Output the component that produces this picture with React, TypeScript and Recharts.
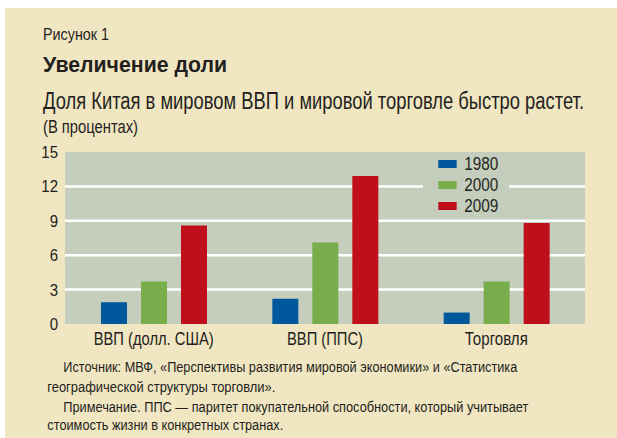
import { BarChart, Bar, XAxis, YAxis, CartesianGrid, Legend } from 'recharts';

const categories = ['ВВП (долл. США)', 'ВВП (ППС)', 'Торговля'];
const share1980 = [1.9, 2.2, 1.0];
const share2000 = [3.7, 7.1, 3.7];
const share2009 = [8.6, 12.9, 8.8];
const yTicks = [0, 3, 6, 9, 12, 15];
const seriesNames = ['1980', '2000', '2009'];
const seriesColors = ['#00589c', '#77ad4b', '#be0f1a'];

// widths of the condensed labels in the reference
const categoryWidths = [120, 76, 63];

const data = categories.map((name, i) => ({
  name,
  y1980: share1980[i],
  y2000: share2000[i],
  y2009: share2009[i],
}));

const FONT = "'Liberation Sans', Arial, sans-serif";
const CREAM = '#f1e6c2';
const PLOT = '#c5cebc';
const INK = '#231f20';

function CategoryTick({ x, y, payload, index }: any) {
  return (
    <text x={x} y={y} dy={13} textAnchor="middle" fontSize={17.5} fill={INK} fontFamily={FONT}
      textLength={categoryWidths[index]} lengthAdjust="spacingAndGlyphs">
      {payload.value}
    </text>
  );
}

function ValueTick({ x, y, payload }: any) {
  const label = String(payload.value);
  return (
    <text x={x + 1} y={y} dy={6} textAnchor="end" fontSize={17} fill={INK} fontFamily={FONT}
      textLength={label.length * 8.35} lengthAdjust="spacingAndGlyphs">
      {label}
    </text>
  );
}

function LegendBox() {
  return (
    <svg width={86} height={64} style={{ display: 'block' }}>
      <rect width={86} height={64} fill={PLOT} />
      {seriesNames.map((s, i) => (
        <g key={s}>
          <rect x={15.3} y={8 + i * 21} width={18.4} height={8} fill={seriesColors[i]} />
          <text x={41.3} y={18 + i * 21} fontSize={17.5} fill={INK} fontFamily={FONT}
            textLength={34} lengthAdjust="spacingAndGlyphs">{s}</text>
        </g>
      ))}
    </svg>
  );
}

function Label({ x, y, size, width, bold, children }: any) {
  return (
    <text x={x} y={y} fontSize={size} fontWeight={bold ? 'bold' : 'normal'} fill={INK} fontFamily={FONT}
      textLength={width} lengthAdjust="spacingAndGlyphs">
      {children}
    </text>
  );
}

export default function App() {
  return (
    <div style={{ position: 'absolute', left: 0, top: 0, width: 617, height: 438, background: '#fff' }}>
      <div style={{ position: 'absolute', left: 5, top: 8, width: 612, height: 430, background: CREAM }} />
      <div style={{ position: 'absolute', left: 0, top: 0 }}>
        <BarChart
          width={617}
          height={438}
          data={data}
          barSize={26}
          barGap={14}
          margin={{ top: 152, right: 32, bottom: 84, left: 0 }}
        >
          <CartesianGrid
            fill={PLOT}
            vertical={false}
            stroke="#ffffff"
            strokeWidth={2.5}
            horizontalCoordinatesGenerator={({ offset }: any) =>
              [3, 6, 9, 12].map((v) => offset.top + offset.height * (1 - v / 15))
            }
          />
          <XAxis
            dataKey="name"
            height={30}
            padding={{ left: 3, right: 3 }}
            axisLine={false}
            tickLine={false}
            tick={<CategoryTick />}
          />
          <XAxis
            xAxisId="edges"
            type="number"
            domain={[0, 3]}
            ticks={[0, 1, 2, 3]}
            height={0}
            padding={{ left: 3, right: 3 }}
            axisLine={false}
            tick={false}
            tickSize={3}
            mirror
            stroke="#333"
          />
          <YAxis
            width={65}
            domain={[0, 15]}
            ticks={yTicks}
            axisLine={false}
            tickLine={false}
            tick={<ValueTick />}
          />
          <Legend
            verticalAlign="middle"
            align="center"
            layout="horizontal"
            content={() => <LegendBox />}
            wrapperStyle={{ left: 423, top: 152, width: 86 }}
          />
          <Bar dataKey="y1980" name="1980" fill={seriesColors[0]} isAnimationActive={false} />
          <Bar dataKey="y2000" name="2000" fill={seriesColors[1]} isAnimationActive={false} />
          <Bar dataKey="y2009" name="2009" fill={seriesColors[2]} isAnimationActive={false} />
        </BarChart>
      </div>
      <svg width={617} height={438} style={{ position: 'absolute', left: 0, top: 0, pointerEvents: 'none' }}>
        <Label x={43} y={39.5} size={16.5} width={66}>Рисунок 1</Label>
        <Label x={43} y={72} size={22.5} width={184} bold>Увеличение доли</Label>
        <Label x={43} y={109} size={23.5} width={541}>Доля Китая в мировом ВВП и мировой торговле быстро растет.</Label>
        <Label x={43} y={132.5} size={17.5} width={95}>(В процентах)</Label>
        <Label x={63.3} y={372.3} size={15.5} width={454}>Источник: МВФ, «Перспективы развития мировой экономики» и «Статистика</Label>
        <Label x={47.3} y={391.7} size={15.5} width={228}>географической структуры торговли».</Label>
        <Label x={63.3} y={411.7} size={15.5} width={465}>Примечание. ППС — паритет покупательной способности, который учитывает</Label>
        <Label x={47.3} y={429.5} size={15.5} width={236}>стоимость жизни в конкретных странах.</Label>
      </svg>
    </div>
  );
}
